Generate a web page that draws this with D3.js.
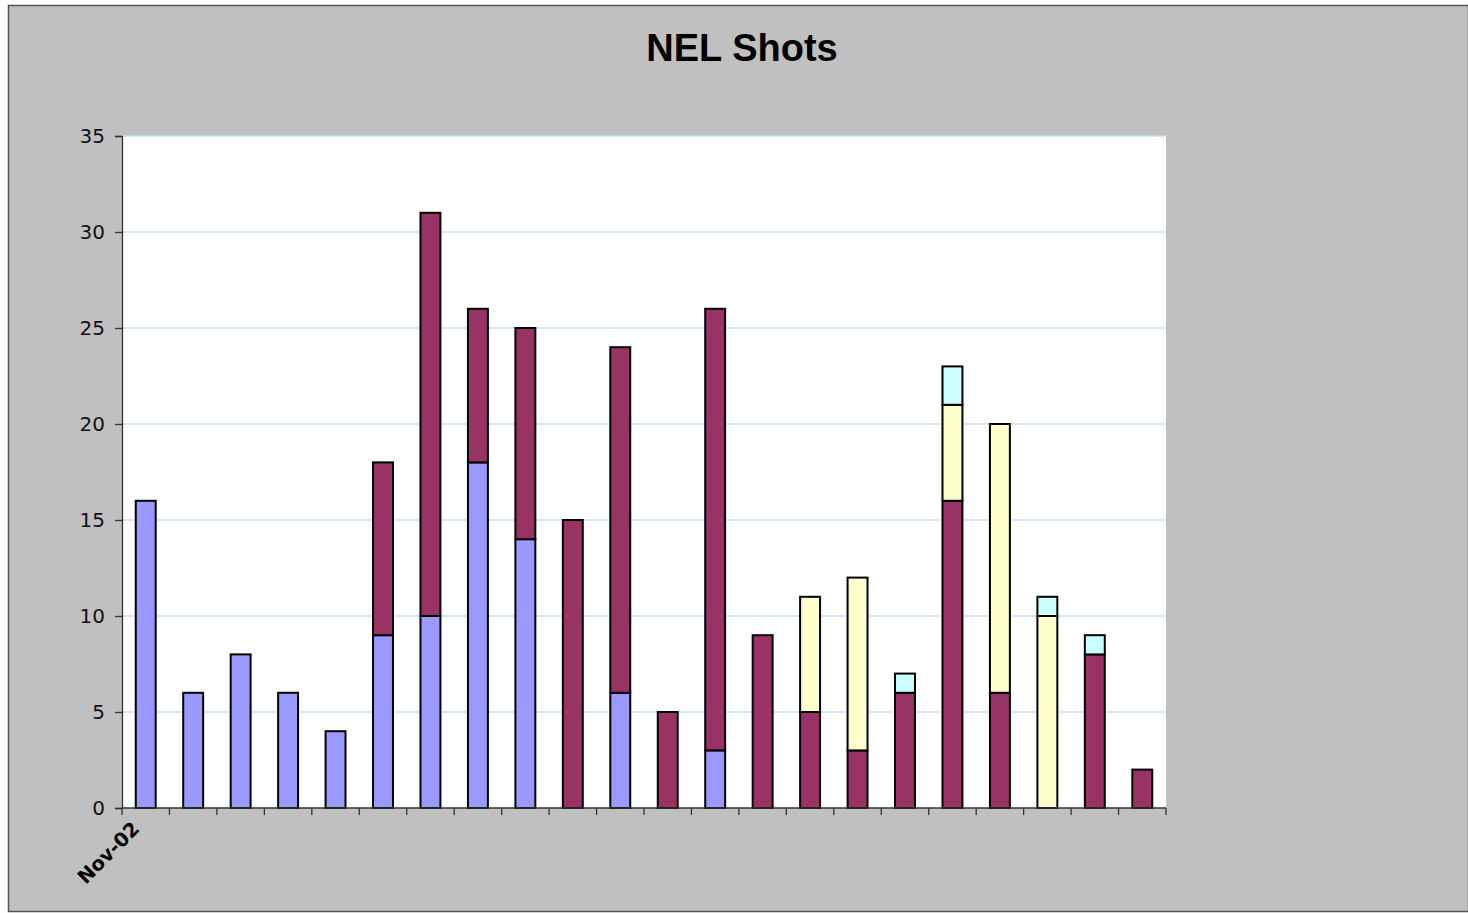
<!DOCTYPE html>
<html>
<head>
<meta charset="utf-8">
<script src="https://cdn.jsdelivr.net/npm/d3@7"></script>
<style>
  body { margin: 0; background: #fff; }
  svg { display: block; }
</style>
</head>
<body>
<div id="chart"></div>
<script>
// months, only the first one gets a label
var months = ['Nov-02', 'Dec-02', 'Jan-03', 'Feb-03', 'Mar-03', 'Apr-03', 'May-03', 'Jun-03',
  'Jul-03', 'Aug-03', 'Sep-03', 'Oct-03', 'Nov-03', 'Dec-03', 'Jan-04', 'Feb-04',
  'Mar-04', 'Apr-04', 'May-04', 'Jun-04', 'Jul-04', 'Aug-04'];
var seriesBlue   = [16, 6, 8, 6, 4, 9, 10, 18, 14, 0, 6, 0, 3, 0, 0, 0, 0, 0, 0, 0, 0, 0];
var seriesMaroon = [0, 0, 0, 0, 0, 9, 21, 8, 11, 15, 18, 5, 23, 9, 5, 3, 6, 16, 6, 0, 8, 2];
var seriesYellow = [0, 0, 0, 0, 0, 0, 0, 0, 0, 0, 0, 0, 0, 0, 6, 9, 0, 5, 14, 10, 0, 0];
var seriesCyan   = [0, 0, 0, 0, 0, 0, 0, 0, 0, 0, 0, 0, 0, 0, 0, 0, 1, 2, 0, 1, 1, 0];
var yTicks = [0, 5, 10, 15, 20, 25, 30, 35];

var keys = ['blue', 'maroon', 'yellow', 'cyan'];
var colors = { blue: '#9999FF', maroon: '#993366', yellow: '#FFFFCC', cyan: '#CCFFFF' };

var rows = months.map(function(m, i) {
  return { month: m, blue: seriesBlue[i], maroon: seriesMaroon[i], yellow: seriesYellow[i], cyan: seriesCyan[i] };
});

var W = 1468, H = 913;
var plot = { left: 122, top: 136, right: 1166, bottom: 808 };

var svg = d3.select('#chart').append('svg')
    .attr('width', W)
    .attr('height', H);

// grey chart area with a thin border
svg.append('rect')
    .attr('x', 8.5).attr('y', 5.5)
    .attr('width', W - 8).attr('height', H - 7)
    .style('fill', '#C0C0C0')
    .style('stroke', '#555')
    .style('stroke-width', '1.5px');

svg.append('text')
    .attr('x', 742).attr('y', 61)
    .attr('text-anchor', 'middle')
    .style('font-family', 'Liberation Sans, Arial, sans-serif')
    .style('font-weight', 'bold')
    .style('font-size', '38px')
    .text('NEL Shots');

svg.append('rect')
    .attr('x', plot.left).attr('y', plot.top)
    .attr('width', plot.right - plot.left).attr('height', plot.bottom - plot.top)
    .style('fill', '#fff');

var x = d3.scaleBand()
    .domain(months)
    .range([plot.left, plot.right])
    .paddingInner(0.58)
    .paddingOuter(0.29);

var y = d3.scaleLinear()
    .domain([0, 35])
    .range([plot.bottom, plot.top]);

// gridlines
svg.append('g').selectAll('line')
    .data(yTicks.filter(function(d) { return d > 0; }))
    .enter().append('line')
    .attr('x1', plot.left).attr('x2', plot.right)
    .attr('y1', function(d) { return y(d); })
    .attr('y2', function(d) { return y(d); })
    .style('stroke', '#C4E0F8')
    .style('stroke-width', '1.5px');

var stacked = d3.stack().keys(keys)(rows);

svg.append('g').selectAll('g')
    .data(stacked)
    .enter().append('g')
    .style('fill', function(d) { return colors[d.key]; })
    .selectAll('rect')
    .data(function(d) { return d.filter(function(p) { return p[1] - p[0] > 0; }); })
    .enter().append('rect')
    .attr('x', function(d) { return x(d.data.month); })
    .attr('width', x.bandwidth())
    .attr('y', function(d) { return y(d[1]); })
    .attr('height', function(d) { return y(d[0]) - y(d[1]); })
    .style('stroke', '#000')
    .style('stroke-width', '2px');

// y axis
var yAxis = svg.append('g')
    .attr('transform', 'translate(' + plot.left + ',0)')
    .call(d3.axisLeft(y).tickValues(yTicks).tickSize(7).tickPadding(10));
yAxis.selectAll('text')
    .style('font-family', 'DejaVu Sans, Verdana, sans-serif')
    .style('font-size', '20px')
    .style('fill', '#111');
yAxis.selectAll('line, path').style('stroke', '#333').style('stroke-width', '1.3px');

// x axis with ticks on category boundaries
var boundaries = d3.range(months.length + 1);
var step = (plot.right - plot.left) / months.length;
var xAxis = svg.append('g');
xAxis.append('line')
    .attr('x1', plot.left).attr('x2', plot.right)
    .attr('y1', plot.bottom).attr('y2', plot.bottom)
    .style('stroke', '#333').style('stroke-width', '1.3px');
xAxis.selectAll('.tick')
    .data(boundaries)
    .enter().append('line')
    .attr('x1', function(d) { return plot.left + d * step; })
    .attr('x2', function(d) { return plot.left + d * step; })
    .attr('y1', plot.bottom).attr('y2', plot.bottom + 7)
    .style('stroke', '#333').style('stroke-width', '1.3px');

var firstX = x(months[0]) + x.bandwidth() / 2;
svg.append('text')
    .attr('transform', 'translate(' + (firstX - 5) + ',' + (plot.bottom + 22) + ') rotate(-45)')
    .attr('text-anchor', 'end')
    .style('font-family', 'DejaVu Sans, Verdana, sans-serif')
    .style('font-weight', 'bold')
    .style('font-size', '19.5px')
    .text(months[0]);
</script>
</body>
</html>
